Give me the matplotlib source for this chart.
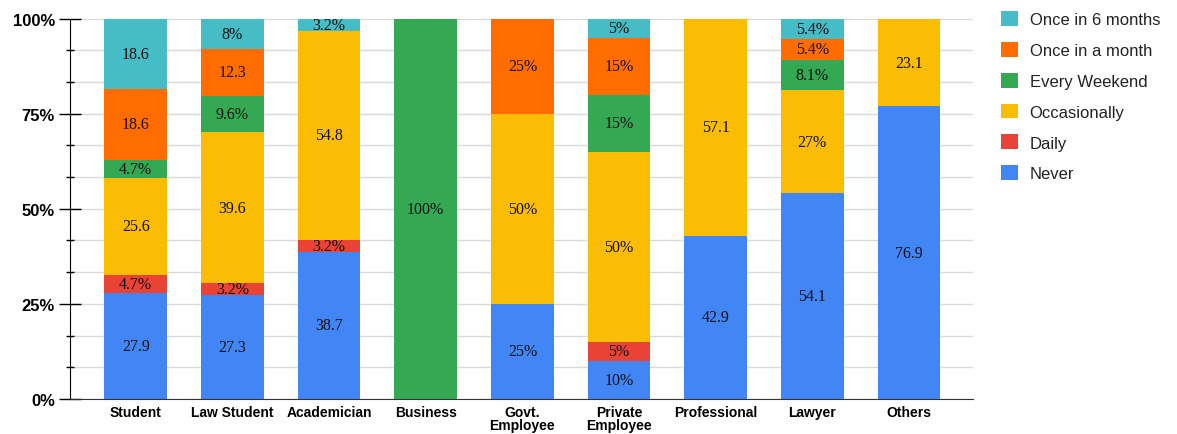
import numpy as np
import matplotlib.pyplot as plt
from matplotlib.patches import Patch
from matplotlib.ticker import MultipleLocator

# Datos del grafico (porcentajes por ocupacion)
categories = ["Student", "Law Student", "Academician", "Business", "Govt.\nEmployee",
              "Private\nEmployee", "Professional", "Lawyer", "Others"]
series = ["Never", "Daily", "Occasionally", "Every Weekend", "Once in a month", "Once in 6 months"]

never = [27.9, 27.3, 38.7, 0, 25, 10, 42.9, 54.1, 76.9]
daily = [4.7, 3.2, 3.2, 0, 0, 5, 0, 0, 0]
occasionally = [25.6, 39.6, 54.8, 0, 50, 50, 57.1, 27, 23.1]
weekend = [4.7, 9.6, 0, 100, 0, 15, 0, 8.1, 0]
month = [18.6, 12.3, 0, 0, 25, 15, 0, 5.4, 0]
six_months = [18.6, 8, 3.2, 0, 0, 5, 0, 5.4, 0]

# Etiquetas tal como aparecen en el grafico
never_lbl = ["27.9", "27.3", "38.7", "", "25%", "10%", "42.9", "54.1", "76.9"]
daily_lbl = ["4.7%", "3.2%", "3.2%", "", "", "5%", "", "", ""]
occ_lbl = ["25.6", "39.6", "54.8", "", "50%", "50%", "57.1", "27%", "23.1"]
weekend_lbl = ["4.7%", "9.6%", "", "100%", "", "15%", "", "8.1%", ""]
month_lbl = ["18.6", "12.3", "", "", "25%", "15%", "", "5.4%", ""]
six_lbl = ["18.6", "8%", "3.2%", "", "", "5%", "", "5.4%", ""]

colors = ["#4285F4", "#EA4335", "#FBBC04", "#34A853", "#FF6D01", "#46BDC6"]

data = [never, daily, occasionally, weekend, month, six_months]
labels = [never_lbl, daily_lbl, occ_lbl, weekend_lbl, month_lbl, six_lbl]

fig = plt.figure(figsize=(11.77, 4.35), dpi=100)
ax = fig.add_axes([0.0595, 0.0805, 0.767, 0.8745])

x = np.arange(len(categories))
bottom = np.zeros(len(categories))
for vals, lbls, col in zip(data, labels, colors):
    vals = np.array(vals, dtype=float)
    ax.bar(x, vals, 0.65, bottom=bottom, color=col, edgecolor="none", zorder=2)
    for i in range(len(x)):
        if lbls[i]:
            ax.text(x[i], bottom[i] + vals[i] / 2, lbls[i], ha="center", va="center",
                    fontsize=11.5, family="Liberation Serif", color="#111111", zorder=3)
    bottom += vals

ax.set_xlim(-0.68, 8.66)
ax.set_ylim(0, 100)
ax.set_xticks(x)
ax.set_xticklabels(categories, fontsize=10, fontweight="bold", family="Liberation Sans",
                   linespacing=0.92)
ax.set_yticks([0, 25, 50, 75, 100])
ax.set_yticklabels(["0%", "25%", "50%", "75%", "100%"], fontsize=12, fontweight="bold",
                   family="Liberation Sans")
ax.yaxis.set_minor_locator(MultipleLocator(100 / 12))

# Rejilla horizontal
for y in np.arange(0, 100.01, 100 / 12):
    ax.axhline(y, color="#d9d9d9", lw=1, zorder=1)

for s in ["top", "right"]:
    ax.spines[s].set_visible(False)
ax.spines["left"].set_color("black")
ax.spines["bottom"].set_color("#333333")
ax.tick_params(axis="x", length=0, pad=4.5)
ax.tick_params(axis="y", which="major", direction="inout", length=16, width=1, pad=3)
ax.tick_params(axis="y", which="minor", direction="inout", length=6, width=1)

handles = [Patch(facecolor=c, edgecolor="none") for c in colors][::-1]
fig.legend(handles, series[::-1], loc="upper left", bbox_to_anchor=(1001 / 1177, 1 - 12 / 435),
           frameon=False, labelspacing=0.88, handlelength=1.0,
           handleheight=1.0, handletextpad=0.72, labelcolor="#222222",
           borderpad=0, borderaxespad=0,
           prop={"family": "Liberation Sans", "size": 12})

fig.savefig("out.png", dpi=100)
